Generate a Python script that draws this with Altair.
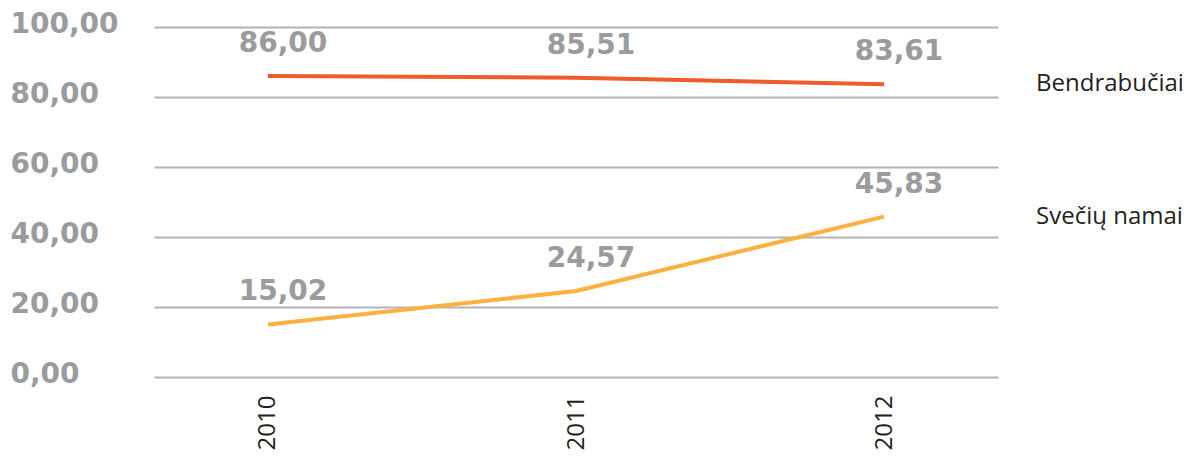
import altair as alt
import pandas as pd

years = ["2010", "2011", "2012"]
bendrabuciai = [86.00, 85.51, 83.61]
sveciu_namai = [15.02, 24.57, 45.83]
series_names = ["Bendrabučiai", "Svečių namai"]
series_colors = ["#f15a29", "#fbb040"]
y_ticks = [0, 20, 40, 60, 80, 100]

rows = []
for name, vals in zip(series_names, [bendrabuciai, sveciu_namai]):
    for yr, v in zip(years, vals):
        rows.append({"year": yr, "value": v, "series": name})
df = pd.DataFrame(rows)

x_enc = alt.X("year:O", scale=alt.Scale(type="point", padding=0.37), sort=years,
              axis=alt.Axis(title=None, labelAngle=-90, labelFont="Open Sans",
                            labelFontSize=24, labelColor="#231f20", labelPadding=18,
                            domain=False, ticks=False, grid=False))
y_enc = alt.Y("value:Q", scale=alt.Scale(domain=[0, 100], nice=False),
              axis=alt.Axis(title=None, values=y_ticks, grid=True, gridColor="#b1b3b6",
                            gridWidth=2, domain=False, ticks=False,
                            labelFont="DejaVu Sans", labelFontSize=28, labelFontWeight="bold",
                            labelColor="#9a9b9e", labelAlign="left", labelPadding=144,
                            labelBaseline="middle", labelOffset=-3,
                            labelExpr="replace(format(datum.value, '.2f'), '.', ',')"))
color_enc = alt.Color("series:N", scale=alt.Scale(domain=series_names, range=series_colors),
                      legend=None)

base = alt.Chart(df)

lines = base.mark_line(strokeWidth=4).encode(x=x_enc, y=y_enc, color=color_enc)

values = base.transform_calculate(
    label="replace(format(datum.value, '.2f'), '.', ',')"
).mark_text(dy=-32, dx=15, font="DejaVu Sans", fontSize=28, fontWeight="bold",
            color="#9a9b9e", align="center", baseline="middle").encode(
    x=alt.X("year:O", sort=years), y="value:Q", text="label:N")

ends = base.transform_filter("datum.year == '2012'").mark_text(
    dx=152, align="left", baseline="middle", font="Open Sans", fontSize=24,
    color="#231f20").encode(x=alt.X("year:O", sort=years), y="value:Q", text="series:N")

chart = alt.layer(lines, values, ends).properties(
    width=844, height=350,
    autosize=alt.AutoSizeParams(type="none"),
    padding={"left": 146, "top": 19, "right": 186, "bottom": 78},
).configure_view(stroke=None)

chart.save("out.html", embed_options={"renderer": "svg", "actions": False})
